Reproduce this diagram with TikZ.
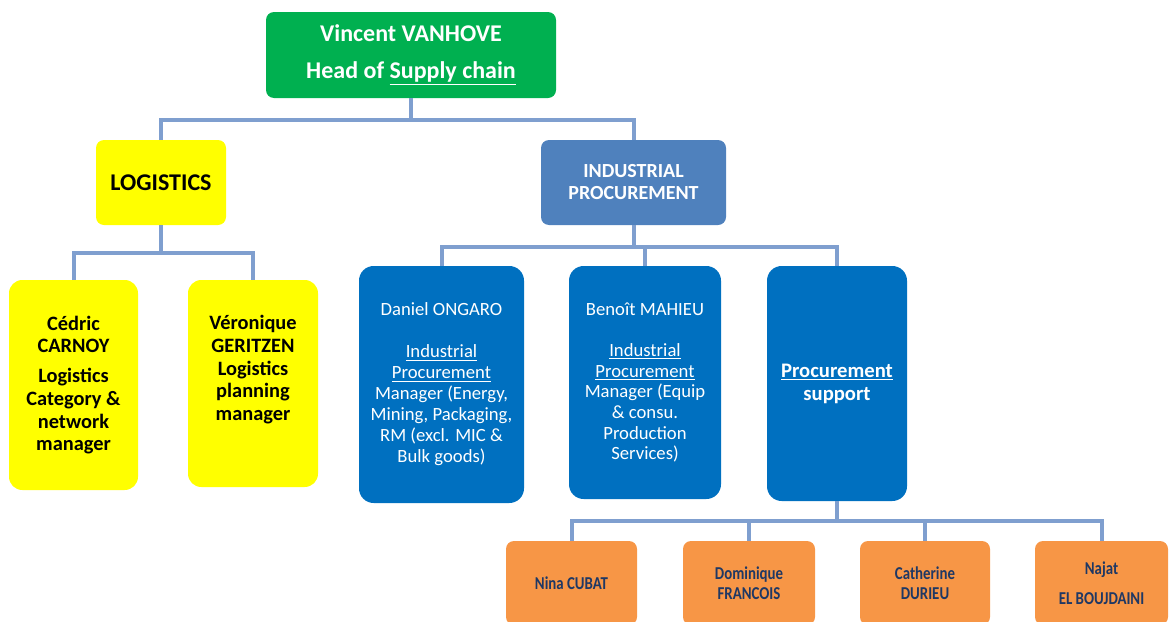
\documentclass[tikz,border=0pt]{standalone}
\usepackage{fontspec}
\setmainfont{Carlito}
\newfontfamily\condfont[FakeStretch=0.82]{Carlito}
\definecolor{cgreen}{HTML}{00B050}
\definecolor{cyellow}{HTML}{FFFF00}
\definecolor{cip}{HTML}{4F81BD}
\definecolor{cblue}{HTML}{0070C0}
\definecolor{corange}{HTML}{F79646}
\definecolor{cline}{HTML}{7F9FCF}
\definecolor{cnavy}{HTML}{1F3864}
\tikzset{
  box/.style={rectangle, draw=none, inner sep=0pt, align=center},
  conn/.style={draw=cline, line width=3pt},
}
\begin{document}
\begin{tikzpicture}[x=0.75pt,y=-0.75pt]
\useasboundingbox (0,0) rectangle (1174,621);
\clip (0,0) rectangle (1174,621);

% top
\node[box, fill=cgreen, rounded corners=6pt, minimum width=217.5pt, minimum height=64.5pt,
      text=white, font=\bfseries\fontsize{18}{27.75}\selectfont] (top) at (411,55)
  {Vincent VANHOVE\\Head of \underline{Supply chain}};

% second level
\node[box, fill=cyellow, rounded corners=6pt, minimum width=97.5pt, minimum height=63.75pt,
      font=\bfseries\fontsize{18}{20}\selectfont] (log) at (161,182.5) {LOGISTICS};
\node[box, fill=cip, rounded corners=6pt, minimum width=138.75pt, minimum height=63.75pt,
      text=white, font=\bfseries\fontsize{15}{16.5}\selectfont] (ip) at (633.5,182.5)
  {INDUSTRIAL\\PROCUREMENT};

% logistics children
\node[box, fill=cyellow, rounded corners=10pt, minimum width=96.75pt, minimum height=157.5pt,
      font=\bfseries\fontsize{15.3}{17}\selectfont] (ced) at (73.5,385)
  {Cédric\\CARNOY\\[5.6pt]Logistics\\Category \&\\network\\manager};
\node[box, fill=cyellow, rounded corners=10pt, minimum width=97.5pt, minimum height=155.25pt,
      font=\bfseries\fontsize{15.3}{17}\selectfont] (ver) at (253,383.5)
  {Véronique\\GERITZEN\\Logistics\\planning\\manager\\[6.2pt]\mbox{}};

% procurement children
\node[box, fill=cblue, rounded corners=11pt, minimum width=123.75pt, minimum height=177.75pt,
      text=white, font=\fontsize{14}{15.75}\selectfont] (dan) at (441.5,384.5)
  {Daniel ONGARO\\\mbox{}\\\underline{Industrial}\\\underline{Procurement}\\Manager (Energy,\\Mining, Packaging,\\RM (excl. MIC \&\\Bulk goods)};
\node[box, fill=cblue, rounded corners=11pt, minimum width=114pt, minimum height=174.75pt,
      text=white, font=\fontsize{14}{15.5}\selectfont] (ben) at (645,382.5)
  {Benoît MAHIEU\\\mbox{}\\\underline{Industrial}\\\underline{Procurement}\\Manager (Equip\\\& consu.\\Production\\Services)};
\node[box, fill=cblue, rounded corners=11pt, minimum width=105pt, minimum height=176.25pt,
      text=white, font=\bfseries\fontsize{15.5}{17.25}\selectfont] (sup) at (837,383.5)
  {\underline{Procurement}\\support};

% support children
\tikzset{obox/.style={box, fill=corange, rounded corners=6pt, minimum height=63pt,
      text=cnavy, font=\condfont\bfseries\fontsize{13.6}{15}\selectfont}}
\node[obox, minimum width=98.25pt] (nin) at (571.5,583) {Nina CUBAT};
\node[obox, minimum width=99pt] (dom) at (749,583) {Dominique\\FRANCOIS};
\node[obox, minimum width=97.5pt] (cat) at (925,583) {Catherine\\DURIEU};
\node[obox, minimum width=99.75pt, font=\condfont\bfseries\fontsize{13.6}{22.5}\selectfont] (naj) at (1101.5,583) {Najat\\EL BOUJDAINI};

% connectors
\draw[conn] (top.south) -- ++(0,22) -| (log.north);
\draw[conn] (top.south) -- ++(0,22) -| (ip.north);
\draw[conn] (log.south) -- ++(0,28) -| (ced.north);
\draw[conn] (log.south) -- ++(0,28) -| (ver.north);
\draw[conn] (ip.south) -- ++(0,22) -| (dan.north);
\draw[conn] (ip.south) -- ++(0,22) -| (ben.north);
\draw[conn] (ip.south) -- ++(0,22) -| (sup.north);
\draw[conn] (sup.south) -- ++(0,20) -| (nin.north);
\draw[conn] (sup.south) -- ++(0,20) -| (dom.north);
\draw[conn] (sup.south) -- ++(0,20) -| (cat.north);
\draw[conn] (sup.south) -- ++(0,20) -| (naj.north);
\end{tikzpicture}
\end{document}
